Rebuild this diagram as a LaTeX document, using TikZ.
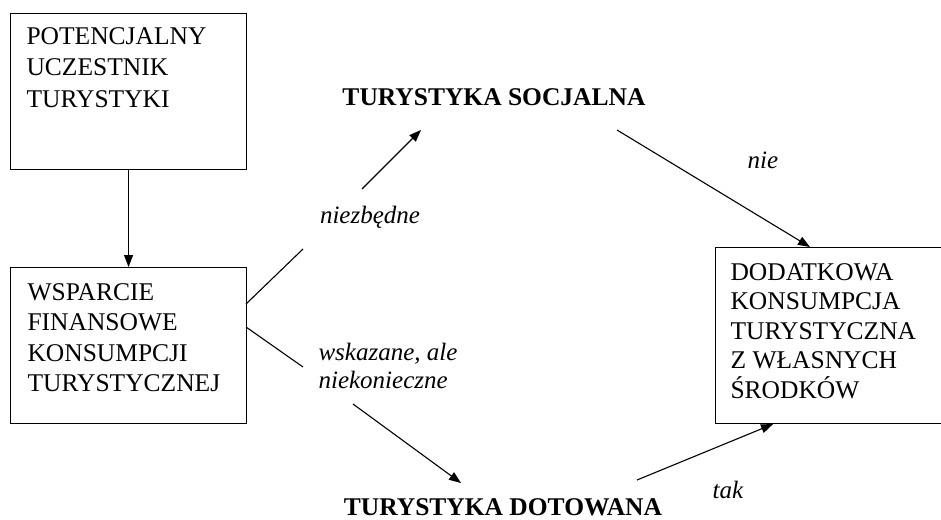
\documentclass[tikz,border=0pt]{standalone}
\usepackage{fontspec}
\setmainfont{Liberation Serif}
\usetikzlibrary{arrows.meta,calc}
\begin{document}
\begin{tikzpicture}[x=1pt,y=-1pt,
  line width=1.1pt,
  boxframe/.style={draw, inner sep=0pt, anchor=north west},
  boxtxt/.style={anchor=north west, inner sep=0pt, align=left, font=\fontsize{25.5}{30}\selectfont},
  title/.style={inner sep=0pt, font=\fontsize{25.5}{30}\selectfont\bfseries},
  lab/.style={inner sep=0pt, align=left, font=\fontsize{25}{28}\selectfont\itshape},
  arr/.style={-{Triangle[length=12pt,width=9pt]}}]
\useasboundingbox (0,0) rectangle (941,519);

% boxes
\node[boxframe, minimum width=236pt, minimum height=156pt] (b1) at (10,13) {};
\node[boxtxt, font=\fontsize{25.5}{31.5}\selectfont] (t1) at ($(b1.north west)+(16,14)$) {POTENCJALNY\\UCZESTNIK\\TURYSTYKI};

\node[boxframe, minimum width=236pt, minimum height=156pt] (b2) at (10,267) {};
\node[boxtxt, font=\fontsize{25.5}{30.5}\selectfont] (t2) at ($(b2.north west)+(17,16)$) {WSPARCIE\\FINANSOWE\\KONSUMPCJI\\TURYSTYCZNEJ};

\node[boxframe, minimum width=230pt, minimum height=176pt] (b3) at (715,247) {};
\node[boxtxt, font=\fontsize{25.5}{29.5}\selectfont] (t3) at ($(b3.north west)+(15,16)$) {DODATKOWA\\KONSUMPCJA\\TURYSTYCZNA\\Z WŁASNYCH\\ŚRODKÓW};

% titles
\node[title] (soc) at (494,97) {TURYSTYKA SOCJALNA};
\node[title] (dot) at (503,507) {TURYSTYKA DOTOWANA};

% labels
\node[lab] (l1) at (370,217) {niezbędne};
\node[lab, anchor=west] (l2) at (318,366) {wskazane, ale\\niekonieczne};
\node[lab] (l3) at (763,160) {nie};
\node[lab] (l4) at (728,490) {tak};

% coordinates of connector ends
\coordinate (a1) at (246,304);
\coordinate (a2) at (303,249);
\coordinate (a3) at (362,189);
\coordinate (a4) at (421,130);

\coordinate (c1) at (246,327);
\coordinate (c2) at (303,367);
\coordinate (c3) at (353,404);
\coordinate (c4) at (461,483);

\coordinate (n1) at (617,130);
\coordinate (t0) at (637,480);

% connectors
\draw[arr] (b1.south) -- (b2.north);
\draw (a1) -- (a2);
\draw[arr] (a3) -- (a4);
\draw (c1) -- (c2);
\draw[arr] (c3) -- (c4);
\draw[arr] (n1) -- (b3.north west -| 810,0);
\draw[arr] (t0) -- (b3.south west -| 773,0);
\end{tikzpicture}
\end{document}
